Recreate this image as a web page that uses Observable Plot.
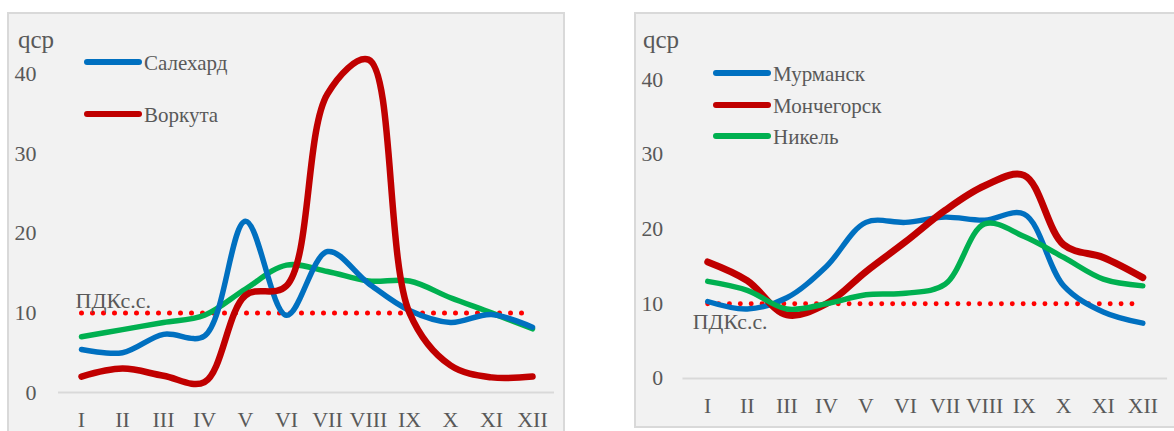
<!DOCTYPE html>
<html>
<head>
<meta charset="utf-8">
<script src="https://cdn.jsdelivr.net/npm/d3@7"></script>
<script src="https://cdn.jsdelivr.net/npm/@observablehq/plot@0.6"></script>
<style>
  html, body { margin: 0; padding: 0; background: #fff; overflow: hidden; }
  #root { position: relative; width: 1174px; height: 431px; overflow: hidden; background: #fff;
          font-family: "Liberation Serif", "Times New Roman", serif; color: #595959; }
  .panel { position: absolute; background: #f2f2f2; border: 2px solid #d9d9d9; box-sizing: border-box; }
  .chart { position: absolute; }
  .lbl { position: absolute; white-space: nowrap; line-height: 1; transform: translateY(-50%); }
  .key { position: absolute; height: 6px; border-radius: 3px; transform: translateY(-50%); }
</style>
</head>
<body>
<div id="root">
  <div class="panel" style="left:7px;top:12px;width:558px;height:450px"></div>
  <div class="panel" style="left:634px;top:12px;width:600px;height:416px"></div>
  <div id="left" class="chart" style="left:8px;top:13px"></div>
  <div id="right" class="chart" style="left:635px;top:13px"></div>

  <div class="lbl" style="left:18px;top:39px;font-size:25px">qcp</div>
  <div class="key" style="left:84px;top:62px;width:58px;background:#0070c0"></div>
  <div class="lbl" style="left:144px;top:63px;font-size:21px">Салехард</div>
  <div class="key" style="left:84px;top:114px;width:58px;background:#c00000"></div>
  <div class="lbl" style="left:144px;top:115px;font-size:21px">Воркута</div>

  <div class="lbl" style="left:643px;top:39px;font-size:25px">qcp</div>
  <div class="key" style="left:713px;top:73px;width:58px;background:#0070c0"></div>
  <div class="lbl" style="left:773px;top:74px;font-size:21px">Мурманск</div>
  <div class="key" style="left:713px;top:105px;width:58px;background:#c00000"></div>
  <div class="lbl" style="left:773px;top:106px;font-size:21px">Мончегорск</div>
  <div class="key" style="left:713px;top:136px;width:58px;background:#00b050"></div>
  <div class="lbl" style="left:773px;top:137px;font-size:21px">Никель</div>
</div>
<script>
// ---- data ----
const months = ["I","II","III","IV","V","VI","VII","VIII","IX","X","XI","XII"];
const yTicks = [0, 10, 20, 30, 40];
const pdk = 10;
const pdkLabel = "ПДКс.с.";

// left panel
const salekhard = [5.4, 5.0, 7.3, 7.1, 21.5, 9.7, 17.7, 13.7, 10.3, 8.8, 9.8, 8.2];
const vorkuta   = [2.0, 3.0, 2.1, 1.3, 12.2, 13.4, 37.5, 41.8, 10.0, 3.4, 1.9, 2.0];
const greenLeft = [7.0, 7.9, 8.8, 9.7, 13.0, 16.0, 15.2, 14.0, 14.0, 11.9, 10.0, 8.0];

// right panel
const murmansk    = [10.3, 9.3, 10.8, 15.0, 20.9, 20.9, 21.6, 21.2, 22.0, 12.4, 8.9, 7.4];
const monchegorsk = [15.6, 13.1, 8.5, 10.0, 14.3, 18.3, 22.5, 25.8, 27.2, 17.9, 16.2, 13.5];
const nikel       = [13.0, 11.8, 9.3, 10.0, 11.2, 11.4, 12.6, 20.7, 19.0, 16.2, 13.3, 12.4];

const BLUE = "#0070c0", RED = "#c00000", GREEN = "#00b050", DOT = "#ff0000";

function rows(vals) { return months.map((m, i) => ({m, v: vals[i]})); }

function panel(opts) {
  const {width, height, ml, mr, mt, mb, series, tickPad, pdkDx, pdkDy} = opts;
  const marks = [
    Plot.ruleY([0], {stroke: "#d9d9d9", strokeWidth: 2}),
    Plot.line([{m: months[0], v: pdk}, {m: months[months.length - 1], v: pdk}], {
      x: "m", y: "v", stroke: DOT, strokeWidth: 5, strokeLinecap: "round", strokeDasharray: "0 11"
    }),
    Plot.text([{m: months[0], v: pdk}], {
      x: "m", y: "v", text: () => pdkLabel, textAnchor: "start", lineAnchor: "middle",
      dx: pdkDx, dy: pdkDy, fontSize: 22, fill: "#595959"
    }),
    ...series.map(s => Plot.line(rows(s.vals), {
      x: "m", y: "v", stroke: s.color, strokeWidth: s.w, curve: "catmull-rom",
      strokeLinecap: "round", strokeLinejoin: "round"
    })),
    Plot.axisY({ticks: yTicks, tickSize: 0, tickPadding: tickPad, label: null, fontSize: 22}),
    Plot.axisX({tickSize: 0, tickPadding: 19, label: null, fontSize: 22})
  ];
  return Plot.plot({
    width, height, marginLeft: ml, marginRight: mr, marginTop: mt, marginBottom: mb,
    x: {type: "point", domain: months, padding: 0.5},
    y: {domain: [0, 40], nice: false},
    style: {background: "transparent", fontFamily: "'Liberation Serif', 'Times New Roman', serif",
            fontSize: "22px", color: "#595959", overflow: "visible"},
    marks
  });
}

document.getElementById("left").append(panel({
  width: 556, height: 420, ml: 50, mr: 10, mt: 60.5, mb: 41, tickPad: 22,
  pdkDx: -6, pdkDy: -12,
  series: [
    {vals: greenLeft, color: GREEN, w: 5.5},
    {vals: salekhard, color: BLUE, w: 5.5},
    {vals: vorkuta, color: RED, w: 6.5}
  ]
}));

document.getElementById("right").append(panel({
  width: 545, height: 414, ml: 48, mr: 7, mt: 67, mb: 45, tickPad: 20,
  pdkDx: -15, pdkDy: 18,
  series: [
    {vals: murmansk, color: BLUE, w: 5.5},
    {vals: monchegorsk, color: RED, w: 7},
    {vals: nikel, color: GREEN, w: 5.5}
  ]
}));
</script>
</body>
</html>
